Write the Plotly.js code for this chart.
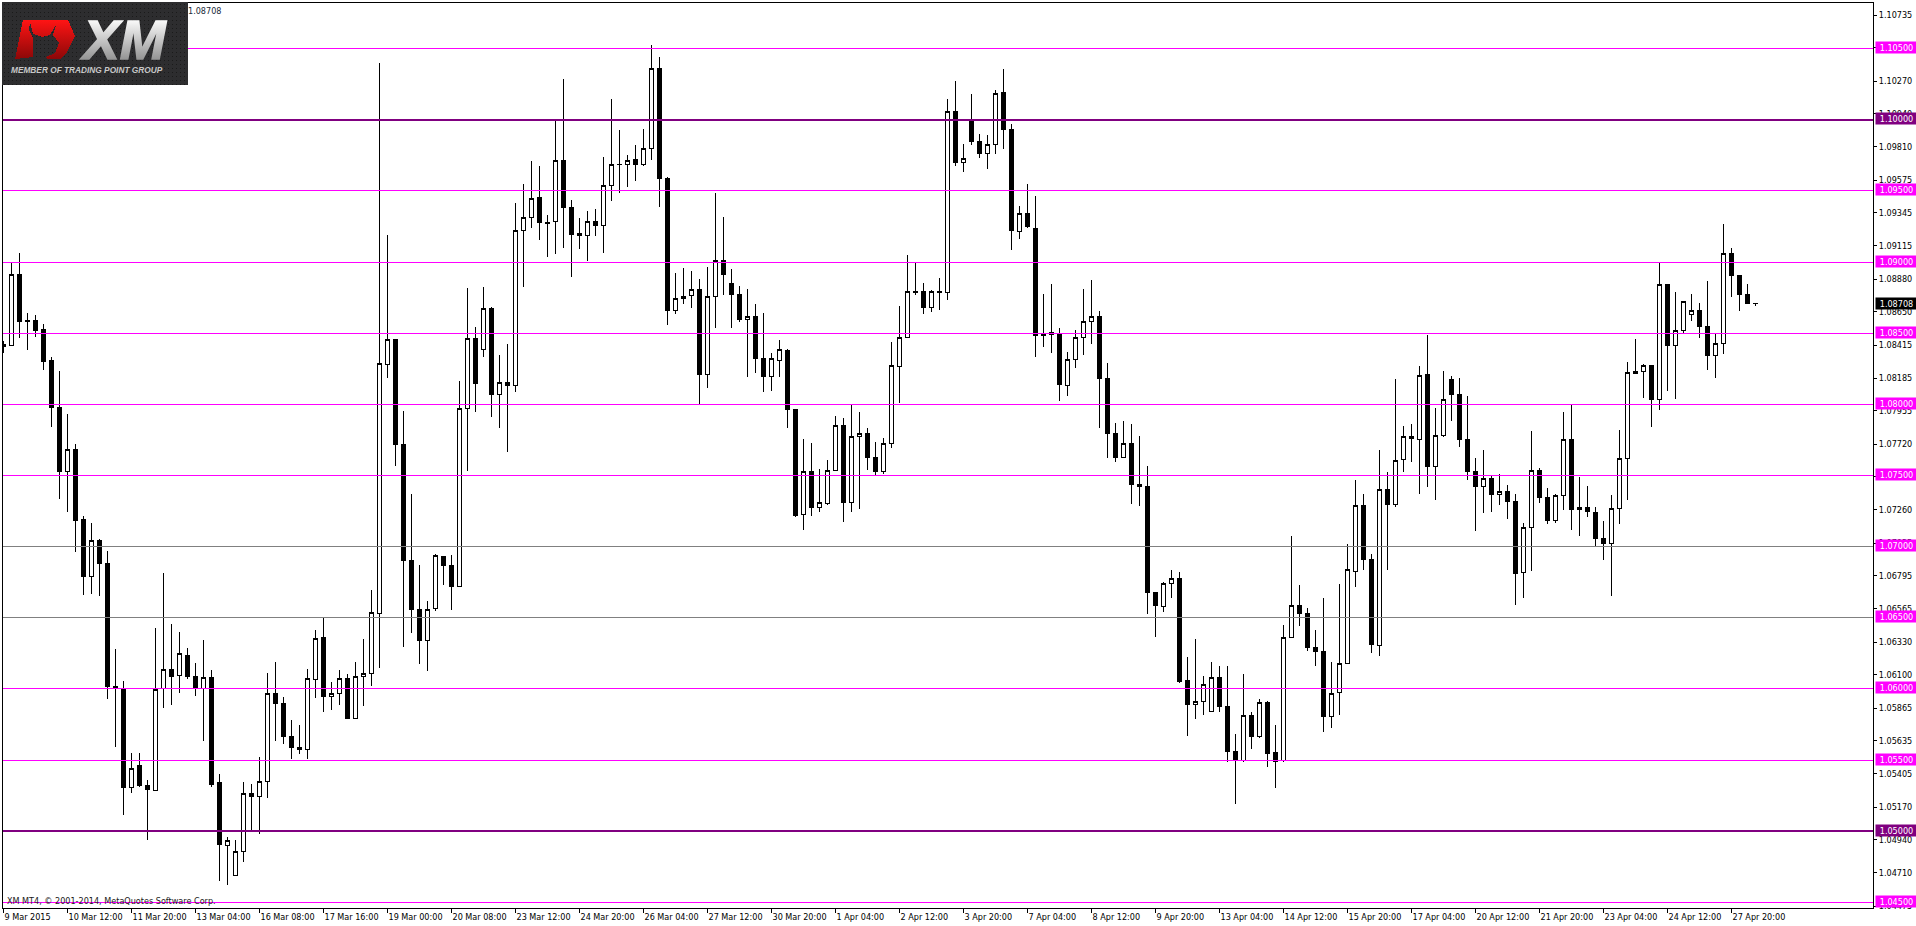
<!DOCTYPE html>
<html>
<head>
<meta charset="utf-8">
<script src="https://cdn.plot.ly/plotly-3.0.1.min.js"></script>
<style>html,body{margin:0;padding:0;background:#fff;overflow:hidden}
#chart .boxes path,#chart .shapelayer path,#chart .crisp{shape-rendering:crispEdges!important}</style>
</head>
<body>
<div id="chart" style="width:1916px;height:926px"></div>
<script>
// EURUSD H4 prices, in points (1 point = 0.00001)
const opens = [
108417,108413,108911,108587,108587,108525,108309,107977,107529,107683,
107189,106791,107044,106882,106015,105998,105309,105463,105322,105289,
106002,106135,106094,106235,106085,106002,106081,105343,104899,104691,
104857,105264,105243,105351,105969,105899,105666,105587,105575,106069,
106359,105948,105969,106073,105795,106089,106110,106529,108280,108454,
107716,106903,106558,106342,106567,106932,106865,106720,107969,108463,
108384,108670,108068,108151,108131,109222,109313,109450,109276,109284,
109711,109380,109197,109185,109284,109255,109537,109687,109687,109720,
109687,109799,110359,109587,108658,108745,108766,108807,108210,108757,
109014,108849,108770,108595,108616,108322,108197,108309,108375,107965,
107226,107525,107276,107301,107537,107849,107309,107774,107795,107625,
107529,107724,108268,108471,108790,108790,108678,108790,108786,110056,
109699,110002,109844,109761,109823,110189,109931,109214,109338,109234,
108492,108492,108500,108131,108313,108471,108579,108616,108180,107795,
107625,107724,107434,107425,106679,106579,106741,106774,106060,105890,
105911,105840,106081,105878,105558,105496,105811,105666,105903,105554,
105496,106359,106587,106529,106289,106264,105807,105977,106181,106824,
107288,106907,106305,107400,107293,107612,107774,107753,108210,107562,
107778,108172,108068,107753,107525,107421,107479,107367,107388,107318,
106820,107135,107533,107342,107181,107359,107753,107259,107272,107239,
107056,107023,107268,107620,108218,108230,108272,108031,108840,108413,
108517,108633,108658,108546,108342,108425,109060,108902,108770,108710];
const highs = [
108446,108994,109064,108641,108629,108562,108330,108234,107932,107720,
107218,107164,107052,106969,106280,106056,105550,105550,105363,106430,
106816,106455,106401,106289,106181,106342,106131,105401,104957,104940,
105347,105334,105521,106110,106189,105944,105782,105745,106139,106413,
106504,106048,106131,106106,106189,106351,106695,110396,109189,108454,
107952,107371,106869,106616,106948,106936,106940,108164,108815,108541,
108824,108683,108346,108425,109413,109546,109707,109674,109330,110002,
110284,109434,109309,109359,109371,109736,110143,109927,109753,109819,
109936,110525,110438,109599,108923,108956,108936,108882,108965,109483,
109317,108952,108832,108811,108703,108641,108359,108450,108388,107965,
107757,107728,107546,107608,107919,107903,107994,107944,107836,107737,
107761,108438,108691,109048,109002,108853,108803,108886,110143,110272,
109828,110180,109898,109890,110209,110355,109969,109392,109546,109463,
108774,108844,108537,108367,108525,108811,108873,108653,108288,107869,
107882,107861,107778,107566,106679,106753,106836,106820,106222,106351,
106089,106189,106164,106164,105683,106106,105836,105932,105915,105745,
106450,107073,106728,106571,106413,106637,106189,106737,107019,107467,
107371,106948,107678,107525,108176,107849,107861,108268,108488,107973,
108234,108201,108185,108056,107620,107678,107500,107508,107430,107367,
107168,107811,107554,107413,107371,107944,107994,107488,107425,107276,
107181,107363,107820,108297,108458,108284,108272,108998,108840,108790,
108728,108774,108712,108865,108492,109268,109097,108911,108844,108712];
const lows = [
108359,108413,108463,108380,108475,108243,107844,107334,107247,106965,
106662,106666,106650,105932,105592,105114,105268,105309,104936,105289,
105870,105886,105969,106069,105953,105633,105309,104650,104621,104691,
104787,105007,104982,105231,105633,105616,105509,105542,105509,105940,
105836,105849,105886,105795,105795,105882,106019,106148,108185,107566,
106293,106396,106177,106123,106546,106728,106554,106720,107533,107944,
108330,107911,107832,107666,108085,108824,109239,109155,109035,109056,
109097,108898,109089,109010,109180,109064,109429,109487,109525,109570,
109674,109716,109388,108558,108637,108703,108674,108002,108114,108537,
108766,108537,108579,108193,108218,108085,108093,108193,107832,107210,
107118,107214,107247,107293,107529,107176,107247,107264,107537,107500,
107508,107695,108010,108471,108766,108633,108649,108662,108732,109674,
109633,109819,109728,109653,109757,109794,109085,109160,109239,108330,
108400,108359,108023,108056,108255,108346,108425,107832,107620,107596,
107620,107301,107284,106525,106363,106538,106637,106040,105670,105791,
105816,105836,105836,105488,105193,105484,105579,105654,105455,105305,
105484,106359,106442,106268,106160,105699,105724,105816,106177,106716,
106836,106251,106231,106836,107280,107525,107596,107371,107417,107326,
107770,107882,107699,107467,107110,107235,107243,107293,107193,106591,
106637,106828,107305,107160,107168,107255,107118,107073,107210,107002,
106907,106654,107160,107326,108210,108044,107844,107961,108093,108035,
108492,108583,108467,108239,108185,108355,108757,108653,108703,108691];
const closes = [
108405,108911,108579,108583,108521,108301,107977,107529,107683,107185,
106791,107044,106882,106019,106007,105309,105442,105322,105293,105998,
106135,106089,106247,106089,106007,106081,105330,104907,104936,104857,
105264,105243,105351,105969,105899,105666,105587,105575,106073,106355,
105948,105969,106073,105795,106085,106106,106538,108288,108454,107716,
106903,106558,106342,106558,106940,106869,106720,107969,108463,108143,
108670,108068,108151,108131,109222,109313,109446,109276,109272,109711,
109384,109193,109185,109284,109255,109537,109682,109682,109711,109687,
109794,110359,109587,108658,108741,108757,108807,108210,108757,109014,
108911,108770,108595,108616,108322,108197,108322,108384,107965,107222,
107525,107276,107309,107537,107849,107309,107774,107795,107625,107529,
107724,108272,108467,108790,108786,108678,108790,108786,110056,109699,
109724,109844,109761,109823,110184,109931,109222,109338,109247,108483,
108483,108504,108139,108317,108471,108579,108616,108180,107795,107625,
107724,107438,107425,106679,106587,106741,106774,106056,105890,105911,
106031,106081,105874,105563,105496,105811,105666,105903,105550,105492,
106359,106587,106533,106289,106260,105807,105969,106177,106840,107288,
106907,106313,107400,107297,107604,107774,107761,108201,107562,107778,
108031,108068,107753,107529,107421,107479,107367,107388,107318,106811,
107135,107533,107347,107185,107359,107753,107259,107272,107247,107056,
107023,107268,107620,108222,108234,108272,108031,108840,108413,108517,
108720,108658,108546,108342,108425,109060,108907,108770,108708,108708];

const timeLabels = ["9 Mar 2015","10 Mar 12:00","11 Mar 20:00","13 Mar 04:00","16 Mar 08:00","17 Mar 16:00","19 Mar 00:00","20 Mar 08:00","23 Mar 12:00","24 Mar 20:00","26 Mar 04:00","27 Mar 12:00","30 Mar 20:00","1 Apr 04:00","2 Apr 12:00","3 Apr 20:00","7 Apr 04:00","8 Apr 12:00","9 Apr 20:00","13 Apr 04:00","14 Apr 12:00","15 Apr 20:00","17 Apr 04:00","20 Apr 12:00","21 Apr 20:00","23 Apr 04:00","24 Apr 12:00","27 Apr 20:00"];
const barsPerTimeLabel = 8;
const priceTicks = ["1.10735","1.10505","1.10270","1.10040","1.09810","1.09575","1.09345","1.09115","1.08880","1.08650","1.08415","1.08185","1.07955","1.07720","1.07490","1.07260","1.07025","1.06795","1.06565","1.06330","1.06100","1.05865","1.05635","1.05405","1.05170","1.04940","1.04710","1.04475"];
const levels = ["1.10500","1.10000","1.09500","1.09000","1.08500","1.08000","1.07500","1.07000","1.06500","1.06000","1.05500","1.05000","1.04500"];
const levelLineColors = ["#ff00ff","#800080","#ff00ff","#ff00ff","#ff00ff","#ff00ff","#ff00ff","#808080","#808080","#ff00ff","#ff00ff","#800080","#ff00ff"];
const levelTagColors = ["#ff00ff","#800080","#ff00ff","#ff00ff","#ff00ff","#ff00ff","#ff00ff","#ff00ff","#ff00ff","#ff00ff","#ff00ff","#800080","#ff00ff"];
const levelLineWidths = [1,2,1,1,1,1,1,1,1,1,1,2,1];
const lastPrice = "1.08708";

const FONT = "DejaVu Sans Condensed, DejaVu Sans, Liberation Sans, sans-serif";
const LOGO_FONT = "Liberation Sans, Arial, sans-serif";
const TEXT_SIZE = 9;
const W = 1916, H = 926, L = 3, T = 3, R = 43, B = 18;
const pw = W - L - R, ph = H - T - B;
const px = x => (x - L) / pw;
const py = y => 1 - (y - T) / ph;
const toPrice = a => a.map(v => v / 100000);
const bullPts = [[23,20],[68,20],[75,36],[66,54],[60,59],[47,59],[46,57],[55,53],[59,43],[53,35],[56,25],[50,35],[42,37],[33,34],[30,22],[29,30],[33,38],[33,57],[15,59]];
const polyPath = pts => pts.map((p, i) => (i ? "L" : "M") + px(p[0]) + " " + py(p[1])).join(" ") + " Z";

const shapes = levels.map((lv, i) => ({
  type: "line", xref: "paper", x0: 0, x1: 1, yref: "y", y0: +lv, y1: +lv,
  line: {color: levelLineColors[i], width: levelLineWidths[i]}
}));
shapes.push({type: "rect", xref: "paper", yref: "paper", x0: px(2), x1: px(188), y0: py(85), y1: py(2), fillcolor: "#2b2b2d", line: {width: 0}});
shapes.push({type: "path", xref: "paper", yref: "paper", path: polyPath(bullPts), fillcolor: "#d81212", line: {width: 0}});

const tag = (text, bg, dy) => ({
  xref: "paper", x: px(1875), xanchor: "left", yref: "y", y: +text, yanchor: "middle", yshift: dy,
  text: text, showarrow: false, width: 41, height: 11, borderpad: 0, align: "center",
  bgcolor: bg, font: {family: FONT, size: TEXT_SIZE, color: "#ffffff"}
});
const annotations = levels.map((lv, i) => tag(lv, levelTagColors[i], 1));
annotations.push(tag(lastPrice, "#000000", 0));
annotations.push({xref: "paper", x: px(187), xanchor: "left", yref: "paper", y: py(10.5), yanchor: "middle", text: lastPrice, showarrow: false, borderpad: 0, font: {family: FONT, size: TEXT_SIZE, color: "#1a2a3a"}});
annotations.push({xref: "paper", x: px(6), xanchor: "left", yref: "paper", y: py(900.5), yanchor: "middle", text: "XM MT4, © 2001-2014, MetaQuotes Software Corp.", showarrow: false, borderpad: 0, font: {family: FONT, size: TEXT_SIZE, color: "#1a1a1a"}});
annotations.push({xref: "paper", x: px(123.5), xanchor: "center", yref: "paper", y: py(40), yanchor: "middle", text: "<b><i>XM</i></b>", showarrow: false, borderpad: 0, font: {family: LOGO_FONT, size: 55, color: "#dddddd"}});
annotations.push({xref: "paper", x: px(87), xanchor: "center", yref: "paper", y: py(70), yanchor: "middle", text: "<b><i>MEMBER OF TRADING POINT GROUP</i></b>", showarrow: false, borderpad: 0, font: {family: LOGO_FONT, size: 8.3, color: "#c8c8c8"}});

const xIndex = opens.map((_, i) => i);
const trace = {
  type: "candlestick", x: xIndex,
  open: toPrice(opens), high: toPrice(highs), low: toPrice(lows), close: toPrice(closes),
  increasing: {line: {color: "#000000", width: 1}, fillcolor: "#ffffff"},
  decreasing: {line: {color: "#000000", width: 1}, fillcolor: "#000000"},
  whiskerwidth: 0, hoverinfo: "skip"
};
const layout = {
  width: W, height: H, autosize: false,
  margin: {l: L, r: R, t: T, b: B, pad: 0},
  paper_bgcolor: "#ffffff", plot_bgcolor: "#ffffff",
  showlegend: false, hovermode: false, boxgap: 0.4,
  font: {family: FONT, size: TEXT_SIZE, color: "#000000"},
  xaxis: {
    type: "linear", range: [-0.5 / 8, (pw - 0.5) / 8], rangeslider: {visible: false},
    tickmode: "array", tickvals: timeLabels.map((_, i) => i * barsPerTimeLabel), ticktext: timeLabels,
    ticks: "outside", ticklen: 4, tickwidth: 1, tickcolor: "#000000", tickangle: 0,
    ticklabelposition: "outside right", tickfont: {family: FONT, size: TEXT_SIZE, color: "#000000"},
    showgrid: false, zeroline: false, showline: true, linecolor: "#000000", linewidth: 1, mirror: true, fixedrange: true
  },
  yaxis: {
    side: "right", type: "linear", range: [1.044613, 1.108197],
    tickmode: "array", tickvals: priceTicks.map(Number), ticktext: priceTicks,
    ticks: "outside", ticklen: 3, tickwidth: 1, tickcolor: "#000000",
    tickfont: {family: FONT, size: TEXT_SIZE, color: "#000000"},
    showgrid: false, zeroline: false, showline: true, linecolor: "#000000", linewidth: 1, mirror: true, fixedrange: true
  },
  shapes: shapes, annotations: annotations
};

Plotly.newPlot("chart", [trace], layout, {displayModeBar: false, staticPlot: true, responsive: false}).then(() => {
  const svg = document.querySelector("#chart svg.main-svg");
  const defs = document.createElementNS("http://www.w3.org/2000/svg", "defs");
  defs.innerHTML =
    '<linearGradient id="xmGrad" x1="0" y1="0" x2="0" y2="1"><stop offset="0.15" stop-color="#ffffff"/><stop offset="0.85" stop-color="#8e8e8e"/></linearGradient>' +
    '<linearGradient id="redGrad" x1="0" y1="0" x2="0" y2="1"><stop offset="0" stop-color="#ff1414"/><stop offset="1" stop-color="#8c0808"/></linearGradient>' +
    '<pattern id="logoDots" width="4" height="4" patternUnits="userSpaceOnUse"><rect width="4" height="4" fill="#2d2d2f"/><rect width="1" height="1" fill="#1a1a1a"/></pattern>';
  svg.insertBefore(defs, svg.firstChild);
  document.querySelectorAll("#chart .annotation-text").forEach(el => {
    if (el.textContent === "XM") {
      const paint = n => { n.style.fill = "url(#xmGrad)"; n.style.stroke = "url(#xmGrad)"; n.style.strokeWidth = "1.5px"; };
      paint(el);
      el.querySelectorAll("tspan").forEach(paint);
    }
  });
  document.querySelectorAll("#chart .shapelayer path").forEach(el => {
    const f = el.style.fill;
    if (f === "rgb(216, 18, 18)") el.style.fill = "url(#redGrad)";
    if (f === "rgb(43, 43, 45)") el.style.fill = "url(#logoDots)";
  });
});
</script>
</body>
</html>
